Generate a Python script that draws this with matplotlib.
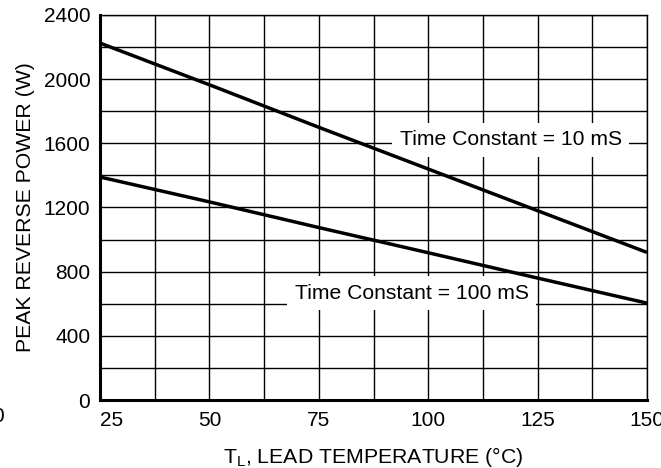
import numpy as np
import matplotlib.pyplot as plt
from matplotlib.ticker import MultipleLocator

plt.rcParams['font.family'] = ['Liberation Sans', 'DejaVu Sans']

# Lead temperature (C) and peak reverse power (W)
temp = [25, 50, 75, 100, 125, 150]
power_10ms = [2225, 1965, 1700, 1440, 1180, 920]
power_100ms = [1390, 1235, 1075, 918, 760, 604]

x_ticks = [25, 50, 75, 100, 125, 150]
y_ticks = [0, 400, 800, 1200, 1600, 2000, 2400]

fig = plt.figure(figsize=(6.61, 4.68), dpi=100)
ax = fig.add_axes([100/661, 1 - 400/468, 547/661, 385/468])

ax.set_xlim(25, 150)
ax.set_ylim(0, 2400)

# grid every 12.5 C and 200 W
ax.xaxis.set_minor_locator(MultipleLocator(12.5))
ax.yaxis.set_minor_locator(MultipleLocator(200))
ax.set_xticks(x_ticks)
ax.set_yticks(y_ticks)
ax.grid(which='both', color='black', lw=1.0)
ax.set_axisbelow(True)
ax.tick_params(which='both', length=0, labelsize=15, colors='black')
ax.tick_params(axis='x', pad=8)
ax.tick_params(axis='y', pad=7)
ax.get_xticklabels()[0].set_horizontalalignment('left')

for side in ['top', 'right']:
    ax.spines[side].set_linewidth(1.0)
for side in ['left', 'bottom']:
    ax.spines[side].set_linewidth(2.2)

# curves drawn above the label boxes
ax.plot(temp, power_10ms, color='black', lw=2.5, solid_capstyle='butt', zorder=5)
ax.plot(temp, power_100ms, color='black', lw=2.5, solid_capstyle='butt', zorder=5)

box = dict(boxstyle='square,pad=0.35', fc='white', ec='none')
ax.text(118.9, 1621, 'Time Constant = 10 mS', fontsize=15.2, ha='center', va='center',
        bbox=box, zorder=4)
ax.text(96.2, 667, 'Time Constant = 100 mS', fontsize=15.2, ha='center', va='center',
        bbox=box, zorder=4)

ax.set_xlabel(r'T$_\mathregular{L}$, LEAD TEMPERATURE ($\mathregular{\degree}$C)',
              fontsize=15.3, labelpad=11)
ax.set_ylabel('PEAK REVERSE POWER (W)', fontsize=15.3, labelpad=6)

# stray label at the lower left of the original
fig.text(4/661, 1 - 417/468, '0', fontsize=15, ha='right', va='center')

fig.savefig('out.png', dpi=100)
